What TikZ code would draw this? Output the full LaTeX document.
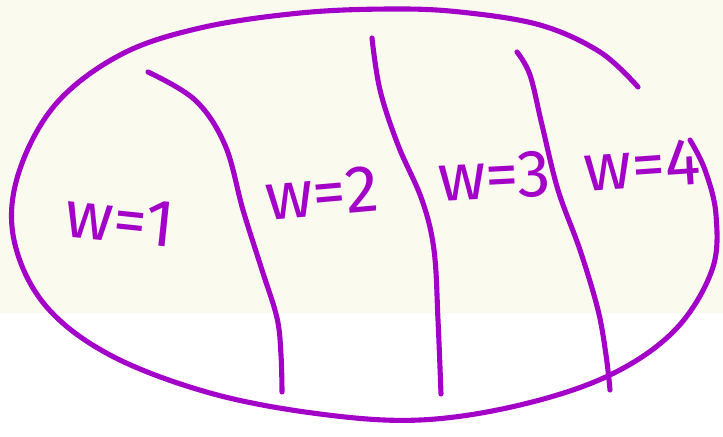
\documentclass[tikz,border=0pt]{standalone}
\usepackage{fontspec}
\setmainfont{Fira Sans}
\usepackage{tikz}
\usetikzlibrary{calc}
\usepackage{xcolor}
\definecolor{pen}{HTML}{A300C8}
\definecolor{paper}{HTML}{FAFAEF}

\begin{document}
\begin{tikzpicture}[x=0.02cm, y=-0.02cm, line cap=round, line join=round]
    % Page
    \useasboundingbox (0,0) rectangle (723,436);
    \fill[color=paper] (0,0) rectangle (723,313);

    % Outer loop
    \draw[line width=2.9pt, color=pen] plot[smooth, tension=0.6] coordinates {
        (638,87) (600,52) (540,25) (460,12) (390,9) (300,13) (200,28)
        (120,55) (55,105) (18,175) (14,240) (45,305) (110,355)
        (210,393) (320,414) (420,420) (520,405) (610,375) (675,330)
        (712,270) (716,215) (705,170) (690,140)};

    % Dividers
    \draw[line width=2.9pt, color=pen] plot[smooth, tension=0.6] coordinates {
        (148,72) (195,100) (225,145) (243,210) (262,270) (277,318) (281,355) (282,392)};
    \draw[line width=2.9pt, color=pen] plot[smooth, tension=0.6] coordinates {
        (372,38) (380,90) (398,145) (422,200) (434,250) (438,320) (441,394)};
    \draw[line width=2.9pt, color=pen] plot[smooth, tension=0.6] coordinates {
        (517,52) (530,75) (542,125) (558,190) (580,250) (598,310) (606,355) (610,390)};

    % Labels
    \node[color=pen, inner sep=0pt, font=\fontsize{38}{38}\selectfont, rotate=-6] (w1) at (120,220) {w=1};
    \node[color=pen, inner sep=0pt, font=\fontsize{38}{38}\selectfont, rotate=5] (w2) at (322,193) {w=2};
    \node[color=pen, inner sep=0pt, font=\fontsize{38}{38}\selectfont, rotate=3] (w3) at (494,176) {w=3};
    \node[color=pen, inner sep=0pt, font=\fontsize{38}{38}\selectfont, rotate=4] (w4) at (642,165) {w=4};
\end{tikzpicture}
\end{document}
